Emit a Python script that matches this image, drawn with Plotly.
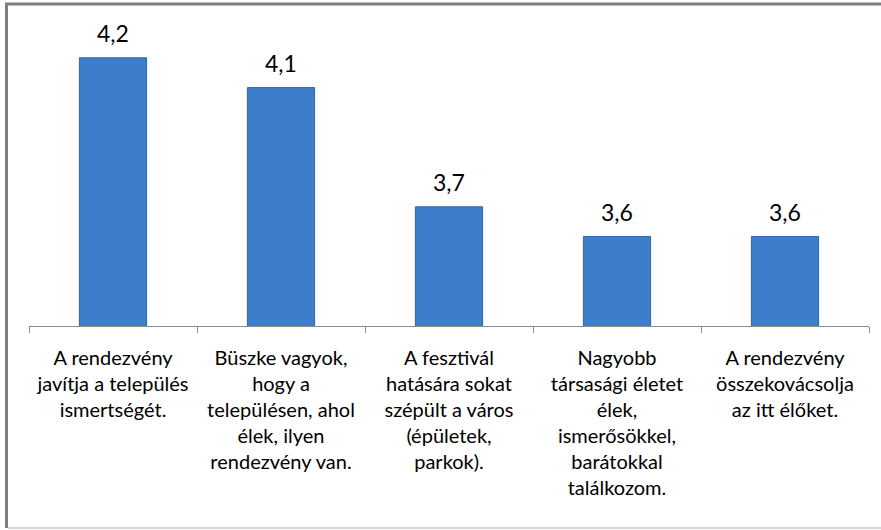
import plotly.graph_objects as go

categories = [
    "A rendezvény<br>javítja a település<br>ismertségét.",
    "Büszke vagyok,<br>hogy a<br>településen, ahol<br>élek, ilyen<br>rendezvény van.",
    "A fesztivál<br>hatására sokat<br>szépült a város<br>(épületek,<br>parkok).",
    "Nagyobb<br>társasági életet<br>élek,<br>ismerősökkel,<br>barátokkal<br>találkozom.",
    "A rendezvény<br>összekovácsolja<br>az itt élőket.",
]
values = [4.2, 4.1, 3.7, 3.6, 3.6]
value_labels = ["4,2", "4,1", "3,7", "3,6", "3,6"]

W, H = 881, 530
ML, MR, MT, MB = 29, 12, 28, 204
PW, PH = W - ML - MR, H - MT - MB


def px_x(p):
    return (p - ML) / PW


def px_y(p):
    return 1 - (p - MT) / PH


fig = go.Figure(
    go.Bar(
        x=categories,
        y=values,
        marker=dict(color="#3D7DCA", line=dict(color="#2F64A8", width=1)),
        width=0.4,
        hoverinfo="skip",
    )
)

annotations = [
    dict(x=c, y=v, text=t, xref="x", yref="y", showarrow=False,
         yanchor="bottom", yshift=9,
         font=dict(size=23, color="#000000", family="Lato"))
    for c, v, t in zip(categories, values, value_labels)
]

fig.update_layout(
    width=W,
    height=H,
    margin=dict(l=ML, r=MR, t=MT, b=MB),
    paper_bgcolor="white",
    plot_bgcolor="white",
    showlegend=False,
    font=dict(family="Lato", color="#000000"),
    annotations=annotations,
    xaxis=dict(
        showline=True,
        linecolor="#8C8C8C",
        linewidth=1,
        ticks="outside",
        tickson="boundaries",
        ticklen=6,
        tickcolor="#8C8C8C",
        tickfont=dict(size=20, color="#000000", family="Lato"),
        ticklabelstandoff=14,
        showgrid=False,
        tickangle=0,
        fixedrange=True,
    ),
    yaxis=dict(visible=False, range=[3.3, 4.3], fixedrange=True),
    shapes=[
        dict(type="line", xref="paper", yref="paper",
             x0=px_x(6.5), x1=px_x(6.5), y0=px_y(3), y1=px_y(528),
             line=dict(color="#7F7F7F", width=3)),
        dict(type="line", xref="paper", yref="paper",
             x0=px_x(5), x1=px_x(885), y0=px_y(4), y1=px_y(4),
             line=dict(color="#7F7F7F", width=3)),
        dict(type="line", xref="paper", yref="paper",
             x0=px_x(8), x1=px_x(885), y0=px_y(528), y1=px_y(528),
             line=dict(color="#C8C8C8", width=1.5)),
    ],
)

fig.write_html("out.html", config={"displayModeBar": False},
               post_script="document.body.style.margin='0';")
